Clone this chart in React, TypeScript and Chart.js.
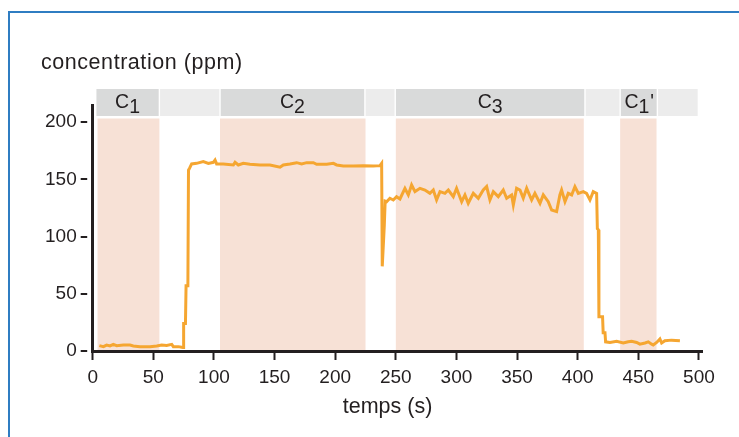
import React, { useEffect, useRef } from 'react';
import { Chart, registerables } from 'chart.js';

Chart.register(...registerables);

// ---- data ----
const timeValues = [
  5.5, 8.8, 11.5, 14.3, 17.0, 19.8, 25.3, 30.8, 33.5, 39.0, 47.3, 52.8, 56.9, 61.0, 65.2, 66.5, 70.6, 73.4, 74.5,
  75, 76.5, 77, 78.5, 79, 80, 81.6,
  85.7, 91.2, 95.4, 99.5, 100.9, 102.2, 107.7, 116, 117.4, 120.1, 124.2, 129.7, 138, 146.2, 154.5, 157.2, 162.7,
  168.2, 172.3, 176.5, 182, 184.7, 193, 198.5, 201.2, 206.7, 214.9, 223.2, 231.4, 236.9, 238.3,
  238.8, 240.5, 241.2,
  242.4, 245.1, 247.9, 250.6, 253.4, 257.5, 260.3, 263, 265.8, 269.9, 274, 278.1, 280.9, 283.6, 286.4, 290.5,
  293.3, 297.4, 300.1, 304.3, 307, 309.7, 313.9, 318, 322.1, 324.9, 327.6, 330.4, 334.5, 338.6, 341.4, 345.5,
  346.9, 349.6, 352.4, 355.1, 357.9, 362, 364.7, 368.9, 371.6, 375.7, 378.5, 382.6, 385.3, 386.7, 389.5, 392.2,
  395, 397.7, 400.5, 404.6, 407.3, 410.1, 412.8, 415.6,
  416.2, 417, 417.5, 420.5, 421, 422.5, 423,
  426.6, 432.1, 437.6, 441.7, 444.5, 448.6, 451.3, 455.5, 458.2, 461, 462.3, 465.1, 467.8, 469.2, 471.9, 477.4, 484.3,
];
const concentrationValues = [
  4.7, 3.8, 5.2, 4.4, 5.8, 4.7, 5.2, 5.2, 4.4, 3.8, 3.8, 4.4, 5.2, 4.9, 5.8, 3.8, 3.8, 3.2, 3,
  24, 24, 57, 57, 158, 160, 163.5,
  164, 165.5, 164, 164.9, 166.9, 163.5, 163.5, 162.6, 164.9, 162.6, 164, 163.2, 162.6, 162.6, 160.6, 162.6, 163.5,
  164.6, 163.5, 164.6, 164.6, 163.2, 163.2, 164, 162.6, 161.7, 161.7, 162, 161.7, 162, 164,
  74, 110, 131,
  130.5, 133.5, 132, 134.9, 132.9, 142.2, 136.4, 145.1, 139.3, 142.2, 140.7, 137.8, 140.7, 132, 139.3, 137.8,
  140.7, 134.9, 142.2, 130.5, 136.4, 129.1, 137.8, 133.5, 140.7, 143.7, 132, 139.3, 134.9, 140.7, 133.5, 136.4,
  127.6, 142.2, 140.7, 133.5, 142.2, 132, 137.8, 129.1, 136.4, 130.5, 123.2, 121.8, 136.4, 140.7, 130.5, 137.8,
  136.4, 143.7, 137.8, 139.3, 137.8, 132, 139.3, 137.8,
  107, 106, 30, 30, 16, 16, 8,
  7.5, 8.5, 7, 8, 8.5, 7.5, 6, 7, 8, 6, 5.2, 7.5, 10.5, 7, 9, 9.5, 9,
];

const xTickValues = [0, 50, 100, 150, 200, 250, 300, 350, 400, 450, 500];
const yTickValues = [0, 50, 100, 150, 200];

const bandStarts = [4, 105, 250, 435];
const bandEnds = [55, 225, 405, 465];

const headerStarts = [2.5, 55, 105, 224.5, 249.5, 406, 435, 465.7];
const headerEnds = [55, 105, 224.5, 249.5, 406, 435, 465.7, 499.5];
const headerLabels = ['C1', '', 'C2', '', 'C3', '', "C1'", ''];

const yAxisTitle = 'concentration (ppm)';
const xAxisTitle = 'temps (s)';

// ---- styles ----
const INK = '#231f20';
const LINE = '#f5a631';
const BAND = '#f7e1d6';
const HEAD_DARK = '#d9dada';
const HEAD_LIGHT = '#ececec';
const FONT = '"Liberation Sans", Arial, Helvetica, sans-serif';

const decorPlugin = {
  id: 'decor',
  beforeDraw(chart: any) {
    const { ctx, chartArea } = chart;
    const xs = chart.scales.x;
    ctx.save();
    ctx.fillStyle = BAND;
    bandStarts.forEach((s, i) => {
      const x0 = xs.getPixelForValue(s);
      const x1 = xs.getPixelForValue(bandEnds[i]);
      const top = chartArea.top + 13.5;
      ctx.fillRect(x0, top, x1 - x0, chartArea.bottom - top);
    });
    headerStarts.forEach((s, i) => {
      const x0 = xs.getPixelForValue(s) + 0.7;
      const x1 = xs.getPixelForValue(headerEnds[i]) - 0.7;
      const label = headerLabels[i];
      ctx.fillStyle = label ? HEAD_DARK : HEAD_LIGHT;
      ctx.fillRect(x0, chartArea.top - 16, x1 - x0, 27);
      if (label) {
        ctx.font = `19.5px ${FONT}`;
        ctx.fillStyle = INK;
        ctx.textBaseline = 'alphabetic';
        ctx.textAlign = 'left';
        const base = label.charAt(0);
        const sub = label.charAt(1);
        const rest = label.slice(2);
        const wB = ctx.measureText(base).width;
        const wS = ctx.measureText(sub).width;
        const wR = ctx.measureText(rest).width;
        const total = wB + wS + wR;
        let cx = (x0 + x1) / 2 - total / 2;
        const baseY = chartArea.top + 2.5;
        ctx.fillText(base, cx, baseY);
        cx += wB;
        ctx.fillText(sub, cx, baseY + 5.4);
        cx += wS;
        if (rest) ctx.fillText(rest, cx + 1, baseY);
      }
    });
    ctx.restore();
  },
  afterDraw(chart: any) {
    const { ctx, chartArea } = chart;
    const ys = chart.scales.y;
    ctx.save();
    ctx.strokeStyle = INK;
    ctx.lineWidth = 2;
    yTickValues.forEach((v) => {
      const py = Math.round(ys.getPixelForValue(v));
      ctx.beginPath();
      ctx.moveTo(chartArea.left - 12, py);
      ctx.lineTo(chartArea.left - 5.5, py);
      ctx.stroke();
    });
    ctx.fillStyle = INK;
    ctx.font = `21.5px ${FONT}`;
    ctx.textBaseline = 'alphabetic';
    ctx.textAlign = 'left';
    (ctx as any).letterSpacing = '0.55px';
    ctx.fillText(yAxisTitle, 41, 68.5);
    (ctx as any).letterSpacing = '0px';
    ctx.textAlign = 'center';
    ctx.fillText(xAxisTitle, 387.5, 413.3);
    ctx.restore();
  },
};

export default function App() {
  const canvasRef = useRef<HTMLCanvasElement | null>(null);

  useEffect(() => {
    const canvas = canvasRef.current;
    if (!canvas) return;
    const points = timeValues.map((t, i) => ({ x: t, y: concentrationValues[i] }));
    const chart = new Chart(canvas, {
      type: 'line',
      data: {
        datasets: [
          {
            data: points,
            borderColor: LINE,
            borderWidth: 3,
            pointRadius: 0,
            tension: 0,
            fill: false,
          },
        ],
      },
      options: {
        animation: false,
        responsive: false,
        events: [],
        layout: { padding: { left: 0, top: 105, right: 36.4, bottom: 0 } },
        plugins: { legend: { display: false }, tooltip: { enabled: false }, title: { display: false } },
        scales: {
          x: {
            type: 'linear',
            min: 0,
            max: 503,
            afterBuildTicks: (scale: any) => {
              scale.ticks = xTickValues.map((v) => ({ value: v }));
            },
            afterFit: (scale: any) => {
              scale.height = 86;
            },
            ticks: {
              stepSize: 50,
              padding: 6.6,
              color: INK,
              font: { family: FONT, size: 19 },
              maxRotation: 0,
              autoSkip: false,
            },
            grid: {
              display: true,
              drawOnChartArea: false,
              drawTicks: true,
              tickLength: 9,
              tickWidth: 2,
              tickColor: INK,
            },
            border: { display: true, width: 3, color: INK },
          },
          y: {
            type: 'linear',
            min: 0,
            max: 215,
            afterBuildTicks: (scale: any) => {
              scale.ticks = yTickValues.map((v) => ({ value: v }));
            },
            afterFit: (scale: any) => {
              scale.width = 92.7;
            },
            ticks: {
              stepSize: 50,
              padding: 16,
              color: INK,
              font: { family: FONT, size: 19 },
              autoSkip: false,
            },
            grid: { display: false, drawTicks: false },
            border: { display: true, width: 3, color: INK },
          },
        },
      },
      plugins: [decorPlugin],
    });
    return () => chart.destroy();
  }, []);

  return (
    <div
      style={{
        position: 'fixed',
        left: 0,
        top: 0,
        width: 739,
        height: 437,
        overflow: 'hidden',
        background: '#fff',
      }}
    >
      <div
        style={{
          position: 'absolute',
          left: 8,
          top: 11,
          width: 900,
          height: 600,
          borderLeft: '2px solid #2f7dc2',
          borderTop: '2px solid #2f7dc2',
        }}
      />
      <canvas
        ref={canvasRef}
        width={739}
        height={437}
        style={{ position: 'absolute', left: 0, top: 0, width: 739, height: 437 }}
      />
    </div>
  );
}
